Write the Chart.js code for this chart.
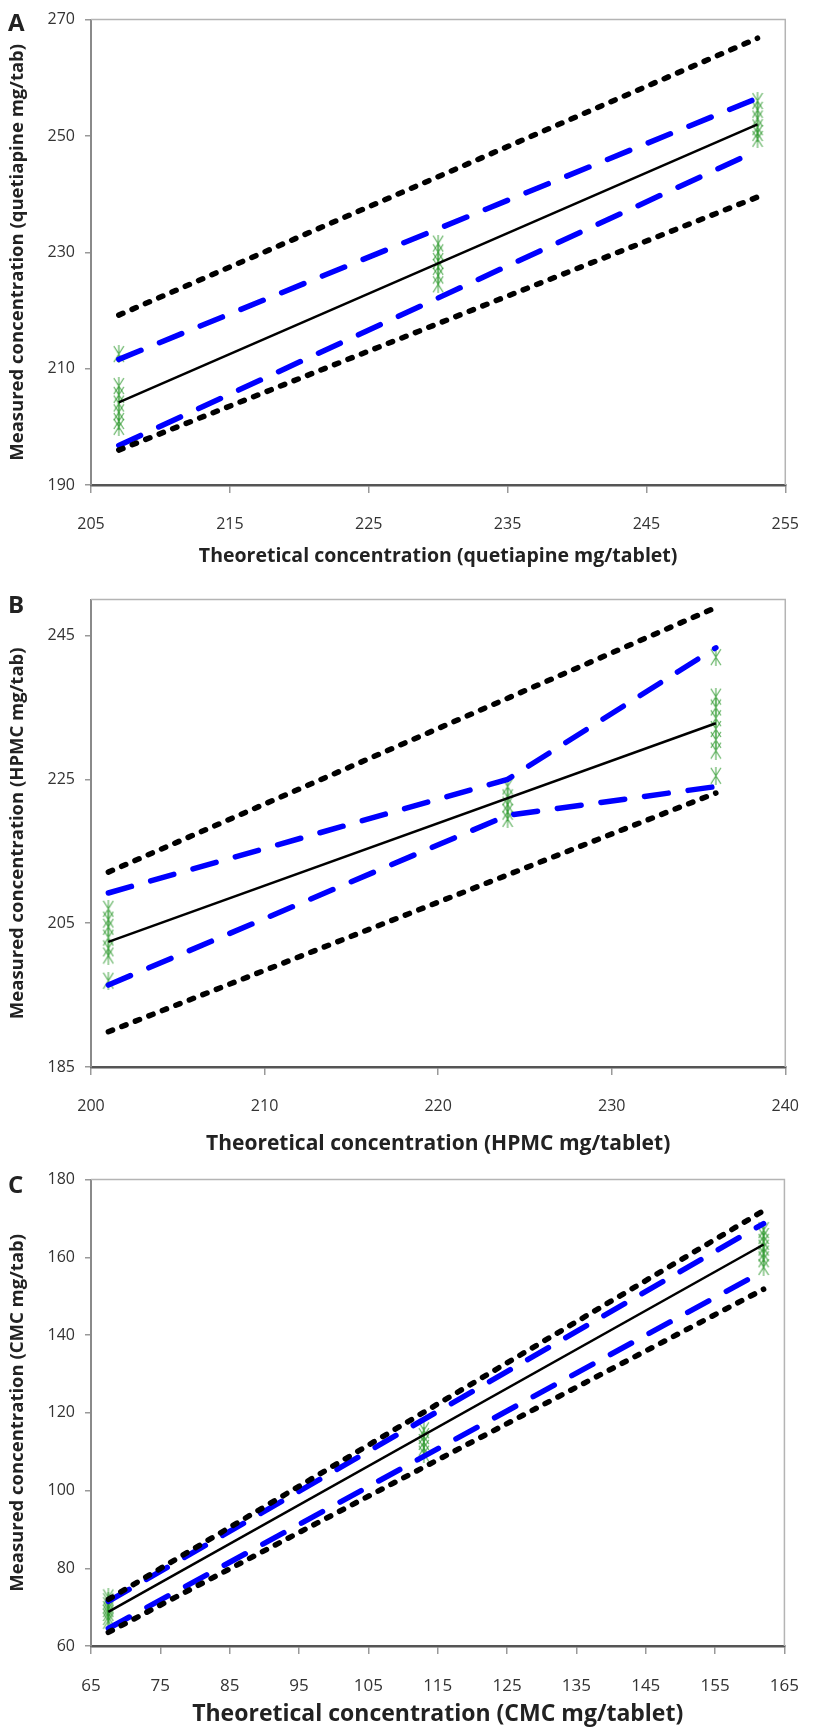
<!DOCTYPE html>
<html>
<head>
<meta charset="utf-8">
<script src="https://cdn.jsdelivr.net/npm/chart.js@4.4.1/dist/chart.umd.min.js"></script>
<style>
  html, body { margin: 0; padding: 0; background: #fff; }
  #page { position: relative; width: 821px; height: 1728px; }
  .panel { position: absolute; left: 0; width: 821px; }
  .tag { position: absolute; left: 8px; font: bold 24px "Open Sans", sans-serif; color: #222; line-height: 28px; }
</style>
</head>
<body>
<div id="page">
  <div class="panel" style="top:0;height:580px"><canvas id="chartA"></canvas></div>
  <div class="panel" style="top:580px;height:580px"><canvas id="chartB"></canvas></div>
  <div class="panel" style="top:1160px;height:568px"><canvas id="chartC"></canvas></div>
  <div class="tag" style="top:8px">A</div>
  <div class="tag" style="top:590px">B</div>
  <div class="tag" style="top:1170px">C</div>
</div>
<script>
// A - quetiapine
const aLevels = [207, 230, 253];
const aObs = [
  [212.5, 207.0, 205.5, 204.0, 202.5, 201.0, 200.0],
  [231.5, 230.0, 228.5, 227.5, 226.0, 224.5],
  [256.0, 254.5, 253.0, 251.5, 250.5, 249.5],
];
const aLineX = [207, 253];
const aFit = [204.2, 252.0];
const aUpperPI = [219.2, 266.8];
const aLowerPI = [196.0, 239.5];
const aUpperCI = [211.6, 256.5];
const aLowerCI = [196.8, 247.5];
const aXTicks = [205, 215, 225, 235, 245, 255];
const aYTicks = [190, 210, 230, 250, 270];

// B - HPMC
const bLevels = [201, 224, 236];
const bObs = [
  [207.0, 205.5, 204.5, 203.0, 201.5, 200.5, 197.0],
  [224.0, 222.5, 221.5, 220.5, 219.5],
  [242.0, 236.5, 235.0, 233.5, 232.0, 230.5, 229.0, 225.5],
];
const bLineX = [201, 236];
const bFit = [202.4, 232.8];
const bUpperPI = [212.1, 248.9];
const bLowerPI = [189.9, 223.1];
const bCIX = [201, 224, 236];
const bUpperCI = [209.2, 225.0, 243.3];
const bLowerCI = [196.4, 220.0, 224.0];
const bXTicks = [200, 210, 220, 230, 240];
const bYTicks = [185, 205, 225, 245];

// C - CMC
const cLevels = [67.5, 113, 162];
const cObs = [
  [72.5, 71.5, 70.5, 69.5, 68.5, 67.5, 66.5],
  [115.5, 114.0, 112.5, 111.0, 109.5],
  [167.0, 165.5, 164.0, 162.5, 161.0, 159.5, 157.5],
];
const cLineX = [67.5, 162];
const cFit = [68.8, 163.3];
const cUpperPI = [72.0, 172.0];
const cLowerPI = [63.5, 151.8];
const cUpperCI = [71.5, 168.7];
const cLowerCI = [64.5, 156.5];
const cXTicks = [65, 75, 85, 95, 105, 115, 125, 135, 145, 155, 165];
const cYTicks = [60, 80, 100, 120, 140, 160, 180];

Chart.defaults.font.family = '"Open Sans", sans-serif';
Chart.defaults.color = '#333';

const NARROW = '"Liberation Sans Narrow", "Open Sans", sans-serif';

const pts = (xs, ys) => ys.map((y, i) => ({ x: xs[i], y }));
const obsPts = (levels, obs) => obs.flatMap((vals, i) => vals.map(y => ({ x: levels[i], y })));

// asterisk-like marker
const mark = document.createElement('canvas');
mark.width = 12; mark.height = 18;
(() => {
  const g = mark.getContext('2d');
  g.strokeStyle = 'rgba(40,150,40,0.8)';
  g.lineWidth = 1.1;
  g.beginPath();
  g.moveTo(6, 0); g.lineTo(6, 18);
  g.moveTo(1, 1); g.lineTo(11, 17);
  g.moveTo(11, 1); g.lineTo(1, 17);
  g.stroke();
})();

const SOLID = { borderColor: '#000', borderWidth: 2.5 };
const PI = { borderColor: '#000', borderWidth: 5.5, borderDash: [4.5, 10], borderCapStyle: 'round' };
const CI = { borderColor: '#0000ff', borderWidth: 5.5, borderDash: [24, 20], borderCapStyle: 'round' };

function line(data, style) {
  return { data, showLine: true, pointRadius: 0, fill: false, tension: 0, ...style };
}

const frame = {
  id: 'frame',
  beforeDatasetsDraw(chart) {
    const { ctx, chartArea: { left, top, right, bottom } } = chart;
    ctx.save();
    ctx.strokeStyle = '#b4b4b4';
    ctx.lineWidth = 1.5;
    ctx.beginPath();
    ctx.moveTo(left, top);
    ctx.lineTo(right, top);
    ctx.lineTo(right, bottom);
    ctx.stroke();
    ctx.restore();
  },
};

function makeChart(id, p) {
  return new Chart(document.getElementById(id), {
    type: 'scatter',
    data: {
      datasets: [
        line(p.upperPI, PI),
        line(p.lowerPI, PI),
        line(p.upperCI, CI),
        line(p.lowerCI, CI),
        line(p.fit, SOLID),
        { data: p.obs, pointStyle: mark, pointRadius: 7, showLine: false },
      ],
    },
    options: {
      responsive: true,
      maintainAspectRatio: false,
      animation: false,
      layout: { padding: { top: p.top, right: 13, left: 0, bottom: 0 } },
      plugins: { legend: { display: false }, tooltip: { enabled: false } },
      scales: {
        x: {
          type: 'linear',
          min: p.xTicks[0],
          max: p.xTicks[p.xTicks.length - 1],
          afterBuildTicks: (s) => { s.ticks = p.xTicks.map((v) => ({ value: v })); },
          afterFit: (s) => { s.height = p.xAxisH; },
          grid: { drawOnChartArea: false, tickLength: 8, color: '#999', lineWidth: 1.5 },
          border: { color: '#555', width: 2.5 },
          ticks: { padding: p.xTickPad, font: p.xTickFont || { size: 16 }, maxRotation: 0, autoSkip: false },
          title: { display: true, text: p.xTitle, font: p.xTitleFont, color: '#222', padding: { top: 0, bottom: p.xTitlePad } },
        },
        y: {
          type: 'linear',
          min: p.yMin,
          max: p.yMax,
          afterBuildTicks: (s) => { s.ticks = p.yTicks.map((v) => ({ value: v })); },
          afterFit: (s) => { s.width = 91; },
          grid: { drawOnChartArea: false, tickLength: 6, color: '#999', lineWidth: 1.5 },
          border: { color: '#8a8a8a', width: 2 },
          ticks: { padding: 10, font: { size: 16 } },
          title: { display: true, text: p.yTitle, font: { size: 18.5, weight: 'bold' }, color: '#222', padding: { top: 7, bottom: 0 } },
        },
      },
    },
    plugins: [frame],
  });
}

makeChart('chartA', {
  top: 16, xAxisH: 95, xTickPad: 22, xTitlePad: 12,
  xTitleFont: { size: 19.5, weight: 'bold' },
  xTicks: aXTicks, yTicks: aYTicks, yMin: 190, yMax: 270,
  xTitle: 'Theoretical concentration (quetiapine mg/tablet)',
  yTitle: 'Measured concentration (quetiapine mg/tab)',
  fit: pts(aLineX, aFit), upperPI: pts(aLineX, aUpperPI), lowerPI: pts(aLineX, aLowerPI),
  upperCI: pts(aLineX, aUpperCI), lowerCI: pts(aLineX, aLowerCI),
  obs: obsPts(aLevels, aObs),
});

makeChart('chartB', {
  top: 18, xAxisH: 93, xTickPad: 22, xTitlePad: 3,
  xTitleFont: { size: 21, weight: 'bold' },
  xTicks: bXTicks, yTicks: bYTicks, yMin: 185, yMax: 250,
  xTitle: 'Theoretical concentration (HPMC mg/tablet)',
  yTitle: 'Measured concentration (HPMC mg/tab)',
  fit: pts(bLineX, bFit), upperPI: pts(bLineX, bUpperPI), lowerPI: pts(bLineX, bLowerPI),
  upperCI: pts(bCIX, bUpperCI), lowerCI: pts(bCIX, bLowerCI),
  obs: obsPts(bLevels, bObs),
});

makeChart('chartC', {
  top: 19, xAxisH: 82, xTickPad: 22, xTitlePad: 0,
  xTitleFont: { size: 23, weight: 'bold', family: NARROW },
  xTickFont: { size: 17, family: NARROW },
  xTicks: cXTicks, yTicks: cYTicks, yMin: 60, yMax: 180,
  xTitle: 'Theoretical concentration (CMC mg/tablet)',
  yTitle: 'Measured concentration (CMC mg/tab)',
  fit: pts(cLineX, cFit), upperPI: pts(cLineX, cUpperPI), lowerPI: pts(cLineX, cLowerPI),
  upperCI: pts(cLineX, cUpperCI), lowerCI: pts(cLineX, cLowerCI),
  obs: obsPts(cLevels, cObs),
});
</script>
</body>
</html>
